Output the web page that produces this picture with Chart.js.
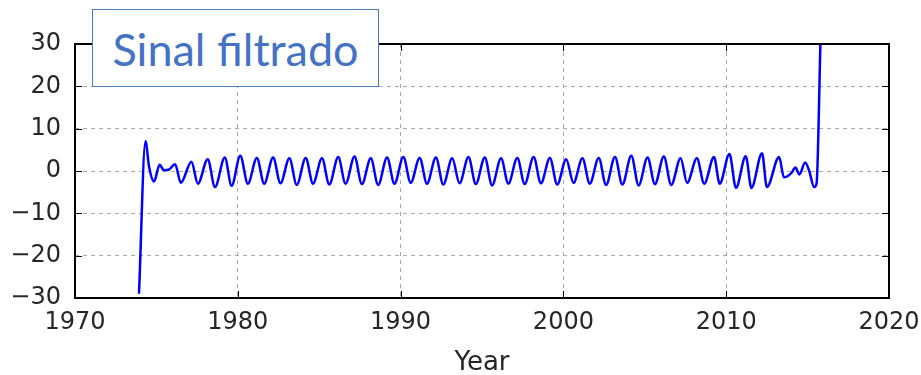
<!DOCTYPE html>
<html>
<head>
<meta charset="utf-8">
<script src="https://cdn.jsdelivr.net/npm/chart.js@4.4.0/dist/chart.umd.min.js"></script>
<style>
  body { margin: 0; background: #fff; }
  #wrap { position: relative; width: 921px; height: 375px; }
  #label {
    position: absolute; left: 92px; top: 9px; width: 287px; height: 78px;
    box-sizing: border-box; border: 1px solid #4a7bc8; background: #fff;
    color: #4472c4; font-family: Lato, "Open Sans", sans-serif; font-size: 45px;
    display: flex; align-items: center; justify-content: center; padding-top: 2px;
  }
</style>
</head>
<body>
<div id="wrap">
  <canvas id="chart" width="921" height="375"></canvas>
  <div id="label">Sinal filtrado</div>
</div>
<script>
    // time in decimal years, filtered signal values
    const years = [
        1973.93, 1974.33, 1974.55, 1974.85, 1975.2, 1975.45, 1975.75, 1976.15, 1976.5,
        1977.15, 1977.55, 1978.15, 1978.6, 1979.2, 1979.62, 1980.15, 1980.62,
        1981.17, 1981.62, 1982.17, 1982.62, 1983.17, 1983.62, 1984.17, 1984.62,
        1985.17, 1985.62, 1986.17, 1986.62, 1987.17, 1987.62, 1988.17, 1988.62,
        1989.17, 1989.62, 1990.17, 1990.62, 1991.17, 1991.62, 1992.17, 1992.62,
        1993.17, 1993.62, 1994.17, 1994.62, 1995.17, 1995.62, 1996.17, 1996.62,
        1997.17, 1997.62, 1998.17, 1998.62, 1999.17, 1999.62, 2000.17, 2000.62,
        2001.17, 2001.62, 2002.17, 2002.62, 2003.17, 2003.62, 2004.17, 2004.62,
        2005.17, 2005.62, 2006.17, 2006.62,
        2007.2, 2007.6, 2008.2, 2008.65, 2009.25, 2009.6, 2010.2, 2010.6, 2011.2, 2011.55,
        2012.2, 2012.5, 2013.25, 2013.55, 2014.0, 2014.25, 2014.5, 2014.85, 2015.1, 2015.4,
        2015.55, 2015.8, 2015.9
    ];
    const signal = [
        -29, 7.0, 1.0, -2.5, 1.5, 0.2, 0.3, 1.6, -2.8,
        2.2, -3.0, 2.8, -3.8, 3.2, -3.5, 3.6, -3.0,
        3.1, -3.0, 3.2, -2.9, 3.0, -3.3, 3.1, -3.0,
        3.0, -3.2, 3.3, -3.0, 3.4, -3.1, 3.0, -3.3,
        3.2, -3.0, 3.3, -2.8, 3.1, -3.0, 3.2, -3.2,
        3.0, -2.9, 3.3, -3.1, 3.2, -3.4, 3.0, -3.0,
        3.1, -3.1, 3.3, -2.9, 3.1, -3.2, 2.8, -2.8,
        3.0, -3.0, 3.1, -3.3, 3.3, -3.2, 3.6, -3.4,
        3.2, -3.1, 3.4, -3.3,
        3.0, -2.8, 3.0, -3.0, 3.3, -3.0, 4.0, -4.0, 3.5, -4.0,
        4.2, -3.8, 3.3, -1.5, -0.5, 0.8, -0.8, 2.0, 0.0, -3.8,
        -3.0, 32, 45
    ];
    const xTicks = [1970, 1980, 1990, 2000, 2010, 2020];
    const yTicks = [-30, -20, -10, 0, 10, 20, 30];

    const points = years.map((x, i) => ({ x, y: signal[i] }));

    // black frame with inward tick marks, like the matplotlib axes
    const framePlugin = {
        id: 'frame',
        afterDraw(chart) {
            const { ctx, chartArea: a, scales } = chart;
            ctx.save();
            ctx.strokeStyle = '#000';
            ctx.lineWidth = 1;
            xTicks.forEach(v => {
                const px = Math.round(scales.x.getPixelForValue(v)) + 0.5;
                ctx.beginPath();
                ctx.moveTo(px, a.bottom); ctx.lineTo(px, a.bottom - 7);
                ctx.moveTo(px, a.top); ctx.lineTo(px, a.top + 7);
                ctx.stroke();
            });
            yTicks.forEach(v => {
                const py = Math.round(scales.y.getPixelForValue(v)) + 0.5;
                ctx.beginPath();
                ctx.moveTo(a.left, py); ctx.lineTo(a.left + 7, py);
                ctx.moveTo(a.right, py); ctx.lineTo(a.right - 7, py);
                ctx.stroke();
            });
            ctx.lineWidth = 2;
            ctx.strokeRect(a.left, a.top, a.right - a.left, a.bottom - a.top);
            ctx.restore();
        }
    };

    const tickFont = { family: '"DejaVu Sans", sans-serif', size: 24 };

    new Chart(document.getElementById('chart'), {
        type: 'scatter',
        data: {
            datasets: [{
                data: points,
                showLine: true,
                borderColor: '#0000ff',
                borderWidth: 2.5,
                pointRadius: 0,
                cubicInterpolationMode: 'monotone'
            }]
        },
        options: {
            responsive: false,
            animation: false,
            layout: { padding: { top: 44, right: 32, left: 0, bottom: 0 } },
            plugins: { legend: { display: false }, tooltip: { enabled: false } },
            scales: {
                x: {
                    type: 'linear', min: 1970, max: 2020,
                    afterBuildTicks: s => { s.ticks = xTicks.map(v => ({ value: v })); },
                    afterFit: s => { s.height = 77; s.paddingLeft = 0; s.paddingRight = 0; },
                    ticks: { color: '#262626', font: tickFont, padding: 10, callback: v => String(v) },
                    grid: { color: '#a8a8a8', lineWidth: 1, drawTicks: false },
                    border: { display: false, dash: [4, 4] },
                    title: { display: true, text: 'Year', color: '#262626', font: { family: '"DejaVu Sans", sans-serif', size: 26 }, padding: { top: 0, bottom: -4 } }
                },
                y: {
                    min: -30, max: 30,
                    afterBuildTicks: s => { s.ticks = yTicks.map(v => ({ value: v })); },
                    afterFit: s => { s.width = 75; s.paddingTop = 0; s.paddingBottom = 0; },
                    ticks: { color: '#262626', font: tickFont, padding: 14, callback: v => v < 0 ? '\u2212' + Math.abs(v) : String(v) },
                    grid: { color: '#a8a8a8', lineWidth: 1, drawTicks: false },
                    border: { display: false, dash: [4, 4] }
                }
            }
        },
        plugins: [framePlugin]
    });
</script>
</body>
</html>
